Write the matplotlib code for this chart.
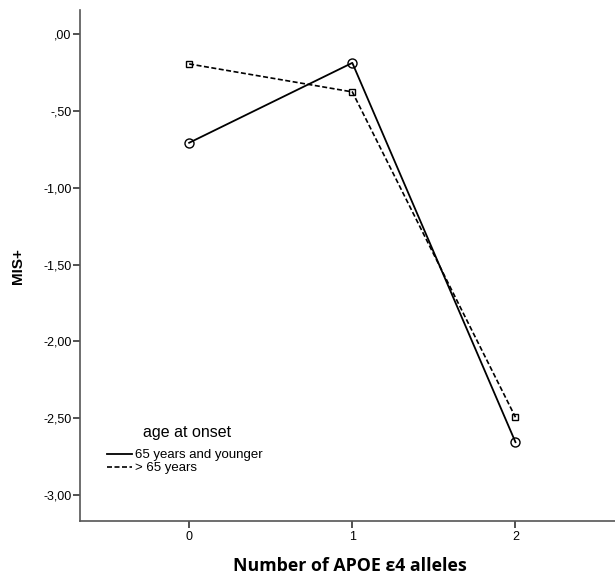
import matplotlib
matplotlib.use("Agg")
import matplotlib.pyplot as plt
from matplotlib.lines import Line2D

x_vals = [0, 1, 2]
young = [-0.708, -0.188, -2.656]
old = [-0.195, -0.377, -2.494]
series_labels = ["65 years and younger", "> 65 years"]
legend_title = "age at onset"
ytick_vals = [0.0, -0.5, -1.0, -1.5, -2.0, -2.5, -3.0]
ytick_labels = [",00", "-,50", "-1,00", "-1,50", "-2,00", "-2,50", "-3,00"]
xtick_labels = ["0", "1", "2"]

fig = plt.figure(figsize=(6.15, 5.77), dpi=100)
ax = fig.add_axes([80/615, 1-521/577, 1-80/615, (521-10)/577])

dash = (0, (3, 1.5))
ax.plot(x_vals, young, color="black", lw=1.3, ls="-", marker="o", ms=6.5,
        mfc="none", mec="black", mew=1.0)
ax.plot(x_vals, old, color="black", lw=1.2, ls=dash, marker="s", ms=5,
        mfc="none", mec="black", mew=1.0)

ax.set_xlim(-0.669, 2.61)
ax.set_ylim(-3.169, 0.156)
ax.set_yticks(ytick_vals)
ax.set_yticklabels(ytick_labels, fontsize=9, family="Liberation Sans")
ax.set_xticks(x_vals)
ax.set_xticklabels(xtick_labels, fontsize=9, family="Liberation Sans")
ax.tick_params(direction="out", length=5, width=1.2, color="#333333")
ax.tick_params(axis="y", pad=1)
ax.tick_params(axis="x", pad=2)
for s in ["top", "right"]:
    ax.spines[s].set_visible(False)
for s in ["left", "bottom"]:
    ax.spines[s].set_color("#555555")
    ax.spines[s].set_linewidth(1.2)

fig.text(18/615, 1-266/577, "MIS+", fontsize=11, fontweight="bold",
         family="Liberation Sans", rotation=90, ha="center", va="center")
fig.text(350/615, 1-566/577, "Number of APOE ε4 alleles", fontsize=12.8,
         fontweight="bold", family="Open Sans", ha="center", va="center")

fig.text(143/615, 1-433/577, legend_title, fontsize=11.5,
         family="Liberation Sans", ha="left", va="center")

handles = [Line2D([0], [0], color="black", lw=1.3, ls="-"),
           Line2D([0], [0], color="black", lw=1.2, ls=dash)]
leg = fig.legend(handles, series_labels, loc="upper left",
                 bbox_to_anchor=(107/615, 1-449/577), frameon=False,
                 prop={"family": "Liberation Sans", "size": 9.5},
                 handlelength=1.9, handletextpad=0.2, labelspacing=0.05,
                 borderaxespad=0, borderpad=0)

fig.savefig("out.png", dpi=100)
